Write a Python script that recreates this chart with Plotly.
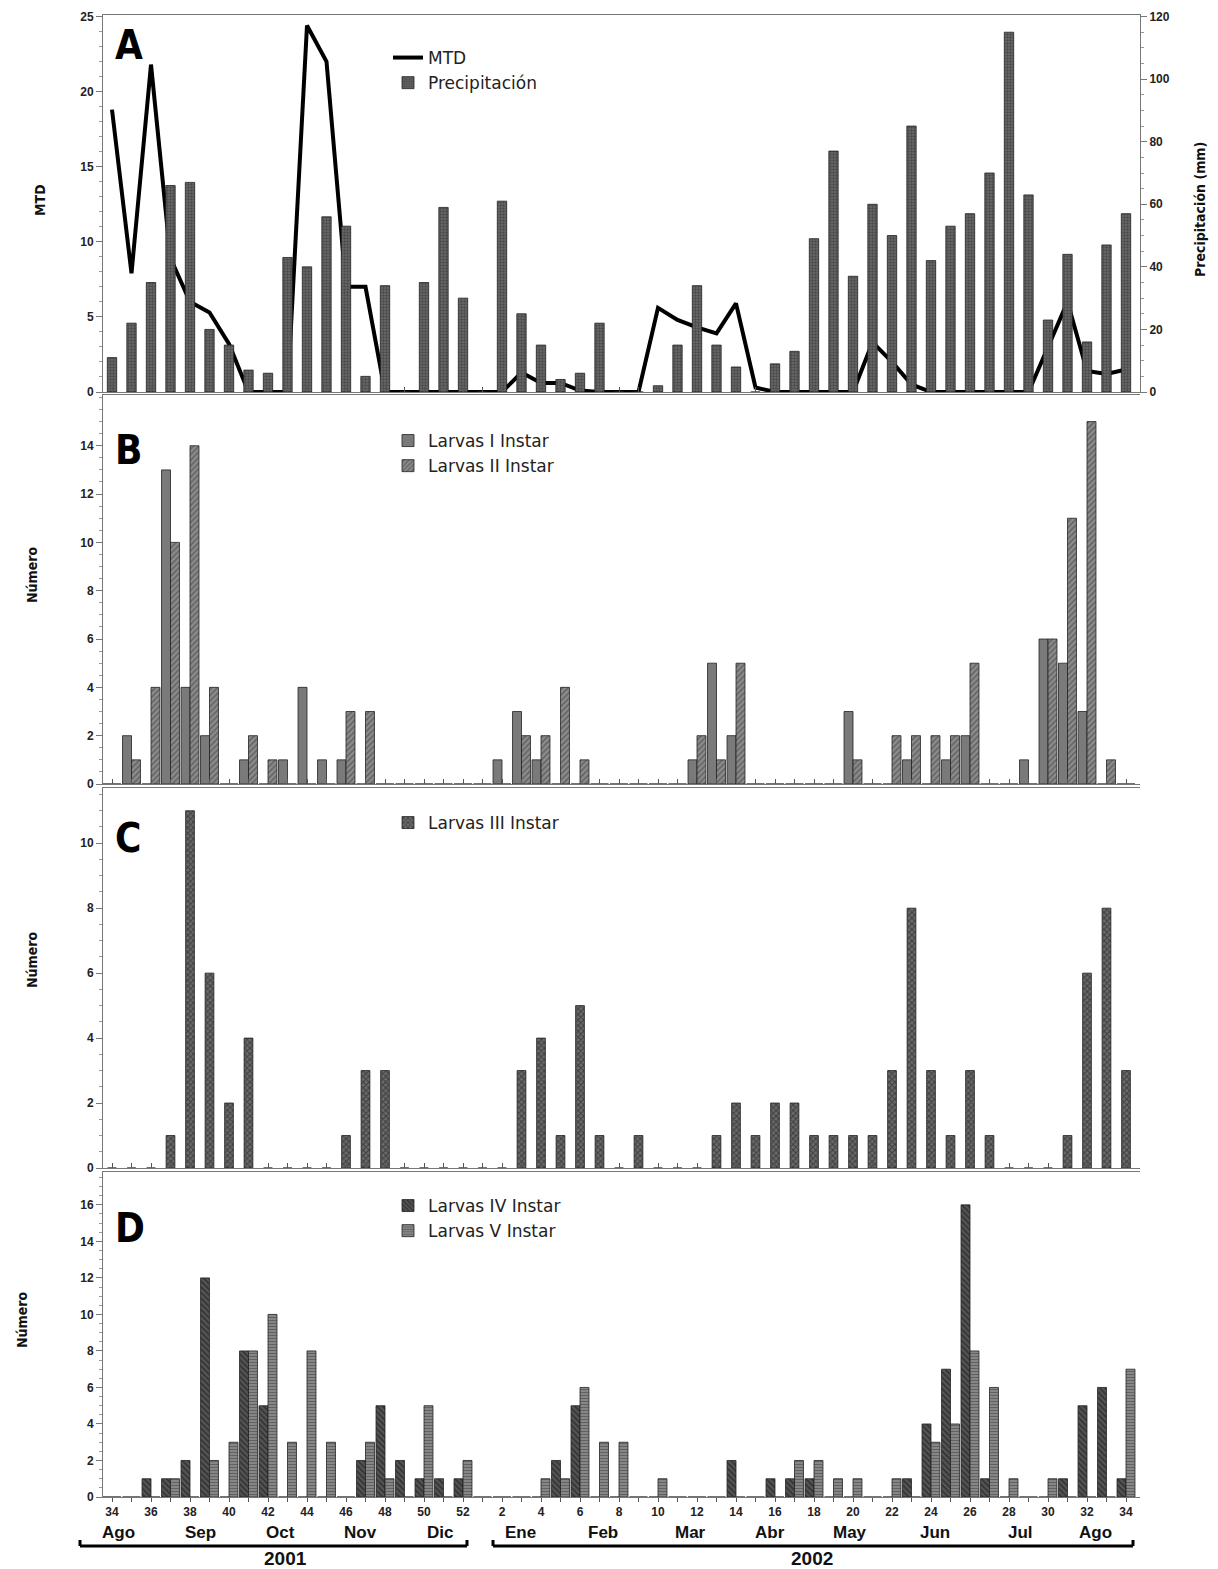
import plotly.graph_objects as go

weeks = list(range(34, 53)) + list(range(1, 35))
precip = [11,22,35,66,67,20,15,7,6,43,40,56,53,5,34,0,35,59,30,0,61,25,15,4,6,22,0,0,2,15,34,15,8,0,9,13,49,77,37,60,50,85,42,53,57,70,115,63,23,44,16,47,57]
mtd = [18.8,7.9,21.8,8.9,6,5.3,3.2,0,0,0,24.4,22,7,7,0,0,0,0,0,0,0,1.3,0.6,0.6,0.1,0,0,0,5.6,4.8,4.3,3.9,5.9,0.3,0,0,0,0,0,3.3,2,0.5,0,0,0,0,0,0,3,6,1.4,1.2,1.5]
larv1 = [0,2,0,13,4,2,0,1,0,1, 4,1,1,0,0,0,0,0,0,0, 1,3,1,0,0,0,0,0,0,0, 1,5,2,0,0,0,0,0,3,0, 0,1,0,1,2,0,0,1,6,5, 3,0,0]
larv2 = [0,1,4,10,14,4,0,2,1,0, 0,0,3,3,0,0,0,0,0,0, 0,2,2,4,1,0,0,0,0,0, 2,1,5,0,0,0,0,0,1,0, 2,2,2,2,5,0,0,0,6,11, 15,1,0]
larv3 = [0,0,0,1,11,6,2,4,0,0, 0,0,1,3,3,0,0,0,0,0, 0,3,4,1,5,1,0,1,0,0, 0,1,2,1,2,2,1,1,1,1, 3,8,3,1,3,1,0,0,0,1, 6,8,3]
larv4 = [0,0,1,1,2,12,0,8,5,0, 0,0,0,2,5,2,1,1,1,0, 0,0,0,2,5,0,0,0,0,0, 0,0,2,0,1,1,1,0,0,0, 0,1,4,7,16,1,0,0,0,1, 5,6,1]
larv5 = [0,0,0,1,0,2,3,8,10,3, 8,3,0,3,1,0,5,0,2,0, 0,0,1,1,6,3,3,0,1,0, 0,0,0,0,0,2,2,1,1,0, 1,0,3,4,8,6,1,0,1,0, 0,0,7]
months = ["Ago","Sep","Oct","Nov","Dic","Ene","Feb","Mar","Abr","May","Jun","Jul","Ago"]
month_px = [118,200,280,360,440,520,603,690,770,850,935,1020,1095]

x = list(range(len(weeks)))
OFF = 8
H = 1569 - OFF; W = 1218 - OFF
LEFT = 103; RIGHT = 1140
L = LEFT - OFF; R = W - (RIGHT - OFF)
PW = RIGHT - LEFT
def py(p): return 1 - (p - OFF) / H
def px(p): return (p - LEFT) / PW

FONT = "Liberation Sans"
BW = 0.46
fig = go.Figure()
line = dict(color="#222", width=0.8)

def pat(shape, bg, fg, size=5, sol=0.4):
    return dict(shape=shape, bgcolor=bg, fgcolor=fg, size=size, solidity=sol, fillmode="overlay")

fig.add_trace(go.Bar(x=x, y=precip, width=0.48, name="Precipitación", xaxis="x", yaxis="y2",
                     marker=dict(color="#666", line=line, pattern=pat(".", "#6a6a6a", "#2a2a2a", 3, 0.5)), legend="legend", legendrank=2))
fig.add_trace(go.Scatter(x=x, y=mtd, mode="lines", name="MTD", line=dict(color="black", width=4),
                         xaxis="x", yaxis="y", legend="legend", legendrank=1))
fig.add_trace(go.Bar(x=x, y=larv1, width=BW, offset=-BW, name="Larvas I Instar", xaxis="x2", yaxis="y3",
                     marker=dict(color="#7a7a7a", line=line), legend="legend2"))
fig.add_trace(go.Bar(x=x, y=larv2, width=BW, offset=0, name="Larvas II Instar", xaxis="x2", yaxis="y3",
                     marker=dict(color="#888", line=line, pattern=pat("/", "#8c8c8c", "#3a3a3a", 4, 0.4)), legend="legend2"))
fig.add_trace(go.Bar(x=x, y=larv3, width=0.45, name="Larvas III Instar", xaxis="x3", yaxis="y4",
                     marker=dict(color="#555", line=line, pattern=pat("x", "#6a6a6a", "#111", 4, 0.45)), legend="legend3"))
fig.add_trace(go.Bar(x=x, y=larv4, width=BW, offset=-BW, name="Larvas IV Instar", xaxis="x4", yaxis="y5",
                     marker=dict(color="#444", line=line, pattern=pat("\\", "#555", "#111", 4, 0.45)), legend="legend4"))
fig.add_trace(go.Bar(x=x, y=larv5, width=BW, offset=0, name="Larvas V Instar", xaxis="x4", yaxis="y5",
                     marker=dict(color="#888", line=line, pattern=pat("-", "#8a8a8a", "#3a3a3a", 3, 0.4)), legend="legend4"))

xr = [(LEFT - 112) / 19.5, (RIGHT - 112) / 19.5]
tf = dict(family=FONT, size=12, color="#222", weight="bold")
common_x = dict(range=xr, showline=True, mirror=True, linecolor="#777", zeroline=False, showgrid=False, automargin=False)
layout = dict(width=W, height=H, margin=dict(l=L, r=R, t=0, b=0, autoexpand=False), plot_bgcolor="white",
              paper_bgcolor="white", barmode="overlay", showlegend=True, font=dict(family=FONT))
for k in range(1, 5):
    name = "xaxis" if k == 1 else f"xaxis{k}"
    ya = "y" if k == 1 else f"y{k+1}"
    d = dict(common_x, domain=[0, 1], anchor=ya, ticks="inside", tickvals=x, ticklen=5, tickcolor="#555",
             showticklabels=False)
    if k == 4:
        d.update(ticks="outside", ticklen=4, showticklabels=True,
                 ticktext=[str(w) if w % 2 == 0 else "" for w in weeks], tickfont=tf)
    else:
        d["matches"] = "x4"
    layout[name] = d

def mn(dt):
    return dict(ticks="outside", ticklen=3, dtick=dt, tickcolor="#999")
yc = dict(showline=True, linecolor="#777", ticks="outside", tickcolor="#777", ticklen=6, showgrid=False,
          zeroline=False, tickfont=tf, automargin=False)
layout["yaxis"] = dict(yc, domain=[py(392), py(15)], range=[0, 25.1], tickvals=list(range(0, 26, 5)), anchor="x", minor=mn(1))
layout["yaxis2"] = dict(yc, overlaying="y", side="right", range=[0, 120.5], tickvals=list(range(0, 121, 20)), anchor="x", minor=mn(5))
layout["yaxis3"] = dict(yc, domain=[py(784), py(395)], range=[0, 16.1], tickvals=list(range(0, 15, 2)), anchor="x2", minor=mn(0.5))
layout["yaxis4"] = dict(yc, domain=[py(1168), py(788)], range=[0, 11.7], tickvals=list(range(0, 11, 2)), anchor="x3", minor=mn(0.5))
layout["yaxis5"] = dict(yc, domain=[py(1497), py(1172)], range=[0, 17.8], tickvals=list(range(0, 17, 2)), anchor="x4", minor=mn(0.5))

lf = dict(family="DejaVu Sans", size=17, color="#222")
for nm, top in [("legend", 40), ("legend2", 423), ("legend3", 805), ("legend4", 1188)]:
    layout[nm] = dict(x=px(388), y=py(top), xanchor="left", yanchor="top", bgcolor="rgba(0,0,0,0)",
                      font=lf, itemwidth=30, tracegroupgap=0, traceorder="normal")
fig.update_layout(**layout)

def A(text, xp, yp, font, angle=0, xa="center"):
    return dict(text=text, textangle=angle, x=px(xp), y=py(yp), xref="paper", yref="paper", xanchor=xa,
                yanchor="middle", showarrow=False, font=font)

ann = []
for letter, top in [("A", 45), ("B", 450), ("C", 838), ("D", 1228)]:
    ann.append(A(f"<b>{letter}</b>", 113, top, dict(family="DejaVu Sans Condensed", size=40, color="black"), xa="left"))
tit = dict(family="DejaVu Sans Condensed", size=14, color="#111", weight="bold")
for txt, xp, yp in [("MTD", 40, 200), ("Número", 32, 575), ("Número", 32, 960), ("Número", 22, 1320)]:
    ann.append(A(txt, xp, yp, tit, -90))
ann.append(A("Precipitación (mm)", 1200, 210, tit, -90))
for m, mp in zip(months, month_px):
    ann.append(A(f"<b>{m}</b>", mp, 1532, dict(family="Liberation Sans", size=17, color="#111")))
for yr, xp in [("2001", 285), ("2002", 812)]:
    ann.append(A(f"<b>{yr}</b>", xp, 1558, dict(family="Liberation Sans", size=19, color="#111")))
fig.update_layout(annotations=ann)

shapes = []
for a, b in [(80, 467), (493, 1133)]:
    shapes.append(dict(type="line", xref="paper", yref="paper", x0=px(a), x1=px(b), y0=py(1546), y1=py(1546),
                       line=dict(color="black", width=3)))
    for e in (a, b):
        shapes.append(dict(type="line", xref="paper", yref="paper", x0=px(e), x1=px(e), y0=py(1546), y1=py(1540),
                           line=dict(color="black", width=3)))
fig.update_layout(shapes=shapes)

fig.write_html("out.html")
